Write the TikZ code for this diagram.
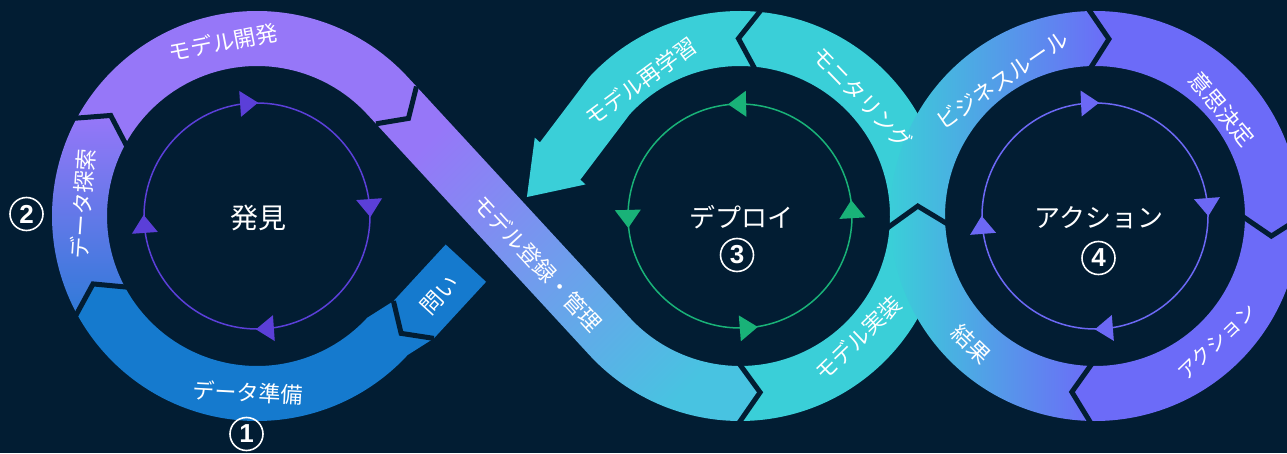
\documentclass[tikz,border=0pt]{standalone}
\usepackage{fontspec}
\newfontfamily\jpfont{Noto Sans CJK JP}
\newfontfamily\numfont{Liberation Sans}
\usetikzlibrary{calc}

\definecolor{bgnavy}{HTML}{021D33}
\definecolor{lpurple}{HTML}{9677F8}
\definecolor{lblue}{HTML}{157ACE}
\definecolor{mteal}{HTML}{3ACFD8}
\definecolor{rviolet}{HTML}{6C6BF8}
\definecolor{lcircle}{HTML}{5B3FD8}
\definecolor{mcircle}{HTML}{19B278}
\definecolor{rcircle}{HTML}{6C68F5}
\definecolor{dend}{HTML}{48C3E1}
\colorlet{dmid}{lpurple!80!mteal}
\colorlet{emid}{lpurple!70!lblue}
\definecolor{ebot}{HTML}{2F7AD8}
\colorlet{rmid}{mteal!45!rviolet}

\tikzset{
  lbl/.style={text=white,font=\jpfont\fontsize{22}{22}\selectfont,inner sep=0},
  hub/.style={text=white,font=\jpfont\fontsize{26}{26}\selectfont,inner sep=0},
  numcirc/.style={circle,draw=white,line width=1.6pt,minimum size=33pt,inner sep=0,
    text=white,font=\numfont\bfseries\fontsize{26}{26}\selectfont},
  bandcut/.style={draw=bgnavy,line width=5pt,line join=miter}
}

\newcommand{\ringpart}[6]{\path[#1,shift={(#2)}] (#3:205) arc[start angle=#3,end angle=#4,radius=205]
  -- (#6:177.5) -- (#4:150) arc[start angle=#4,end angle=#3,radius=150] -- (#5:177.5) -- cycle;}
\newcommand{\ringcut}[3]{\draw[bandcut,shift={(#1)}] (#2:208) -- (#3:177.5) -- (#2:147);}

\begin{document}
\begin{tikzpicture}[x=1pt,y=1pt]
\useasboundingbox (0,0) rectangle (1287,453);
\fill[bgnavy] (0,0) rectangle (1287,453);
\clip (0,0) rectangle (1287,453);

\coordinate (C1) at (257,237);
\coordinate (C2) at (740,237);
\coordinate (C3) at (1095,237);

\begin{scope}[shift={(387.44,357.38)},rotate=-47.30]
  \coordinate (d1out) at (13,27.5);
  \coordinate (d1in) at (13,-27.5);
  \coordinate (d1tip) at (31,0);
  \coordinate (regpos) at (225,-3);
\end{scope}
\begin{scope}[shift={(387.44,116.62)},rotate=47.30]
  \coordinate (q1) at (107,19.5);
  \coordinate (q2) at (107,-35.5);
  \coordinate (q3) at (30,-35.5);
  \coordinate (qtip) at (11.5,-8);
  \coordinate (q4) at (30,19.5);
  \coordinate (askpos) at (66,-10);
  \coordinate (ah1) at (246,19.5);
  \coordinate (ah2) at (246,26.5);
  \coordinate (ahtip) at (197,-8);
  \coordinate (ah3) at (246,-42.5);
  \coordinate (ah4) at (246,-35.5);
\end{scope}

\fill[lblue] (q3) -- ($(C1)+(-42.7:205)$) arc[start angle=-42.7,end angle=-151,radius=205]
  -- ($(C1)+(-157.5:177.5)$) -- ($(C1)+(-151:150)$) arc[start angle=-151,end angle=-42.7,radius=150]
  -- (q4) -- (qtip) -- cycle;
\fill[lblue] (q1) -- (q2) -- (q3) -- (qtip) -- (q4) -- cycle;
\ringpart{shade,top color=lpurple,middle color=emid,bottom color=ebot}{C1}{209}{152}{202.5}{145.5}
\fill[lpurple] ($(C1)+(152:205)$) arc[start angle=152,end angle=42.7,radius=205]
  -- (d1out) -- (d1tip) -- (d1in) -- ($(C1)+(42.7:150)$) arc[start angle=42.7,end angle=152,radius=150]
  -- ($(C1)+(145.5:177.5)$) -- cycle;

\shade[top color=lpurple,middle color=dmid,bottom color=dend,shading angle=45]
  (d1out) -- ($(C2)+(222.7:150)$) arc[start angle=222.7,end angle=269.5,radius=150]
  -- ($(C2)+(276.5:177.5)$) -- ($(C2)+(269.5:205)$) arc[start angle=269.5,end angle=222.7,radius=205]
  -- (d1in) -- (d1tip) -- cycle;
\ringpart{fill=mteal}{C2}{269.5}{356.7}{276.5}{363.2}
\ringpart{fill=mteal}{C2}{356.7}{444}{363.2}{450.5}
\fill[mteal] ($(C2)+(84:205)$) arc[start angle=84,end angle=137.3,radius=205]
  -- (ah1) -- (ah2) -- (ahtip) -- (ah3) -- (ah4)
  -- ($(C2)+(137.3:150)$) arc[start angle=137.3,end angle=84,radius=150]
  -- ($(C2)+(90.5:177.5)$) -- cycle;

\ringpart{shade,left color=mteal,middle color=rmid,right color=rviolet}{C3}{269}{183.3}{262.5}{176.8}
\ringpart{shade,left color=mteal,middle color=rmid,right color=rviolet}{C3}{183.3}{92}{176.8}{85.5}
\ringpart{fill=rviolet}{C3}{92}{0}{85.5}{-6.5}
\ringpart{fill=rviolet}{C3}{360}{269}{353.5}{262.5}

\ringcut{C1}{152}{145.5}
\ringcut{C1}{209}{202.5}
\draw[bandcut] (d1out) -- (d1tip) -- (d1in);
\draw[bandcut] (q4) -- (qtip) -- (q3);
\ringcut{C2}{269.5}{276.5}
\ringcut{C2}{84}{90.5}
\ringcut{C3}{183.3}{176.8}
\ringcut{C3}{92}{85.5}
\ringcut{C3}{0}{-6.5}
\ringcut{C3}{269}{262.5}

\draw[lcircle,line width=1.5pt] (C1) circle[radius=113];
\foreach \a in {94,4,-86,184}
  \fill[lcircle,shift={(C1)},rotate=\a] (113,-9) -- (126,9) -- (100,9) -- cycle;
\draw[mcircle,line width=1.5pt] (C2) circle[radius=112];
\foreach \a in {91.5,181.5,274.5,3.5}
  \fill[mcircle,shift={(C2)},rotate=\a] (112,9) -- (125,-9) -- (99,-9) -- cycle;
\draw[rcircle,line width=1.5pt] (C3) circle[radius=113];
\foreach \a in {92.5,4.5,184.5,-85.5}
  \fill[rcircle,shift={(C3)},rotate=\a] (113,-9) -- (126,9) -- (100,9) -- cycle;

\node[hub,font=\jpfont\fontsize{28}{28}\selectfont] (discover) at (258.5,235.5) {発見};
\node[hub] (deploy) at (741,235.5) {デプロイ};
\node[hub] (action) at (1099,235.5) {アクション};
\node[numcirc] (one) at (246.5,19) {1};
\node[numcirc] (two) at (26.5,239) {2};
\node[numcirc] (three) at (737,198) {3};
\node[numcirc] (four) at (1098.5,195) {4};

\node[lbl,rotate=11] (develop) at ($(C1)+(101:177)$) {モデル開発};
\node[lbl,rotate=86] (explore) at ($(C1)+(176:175)$) {データ探索};
\node[lbl,rotate=-3] (prepare) at ($(C1)+(267:177)$) {データ準備};
\node[lbl,rotate=47.3] (ask) at (askpos) {問い};
\node[lbl,rotate=-47.3] (register) at (regpos) {モデル登録・管理};
\node[lbl,rotate=44] (implement) at ($(C2)+(-46:170)$) {モデル実装};
\node[lbl,rotate=-46] (monitor) at ($(C2)+(44:170)$) {モニタリング};
\node[lbl,rotate=36.5] (retrain) at ($(C2)+(126.5:167)$) {モデル再学習};
\node[lbl,rotate=34.4] (rules) at ($(C3)+(124.4:165)$) {ビジネスルール};
\node[lbl,rotate=-50] (decide) at ($(C3)+(40:166)$) {意思決定};
\node[lbl,rotate=44,font=\jpfont\fontsize{20}{20}\selectfont] (act) at ($(C3)+(-46:175)$) {アクション};
\node[lbl,rotate=-44] (result) at ($(C3)+(226:178)$) {結果};
\end{tikzpicture}
\end{document}
